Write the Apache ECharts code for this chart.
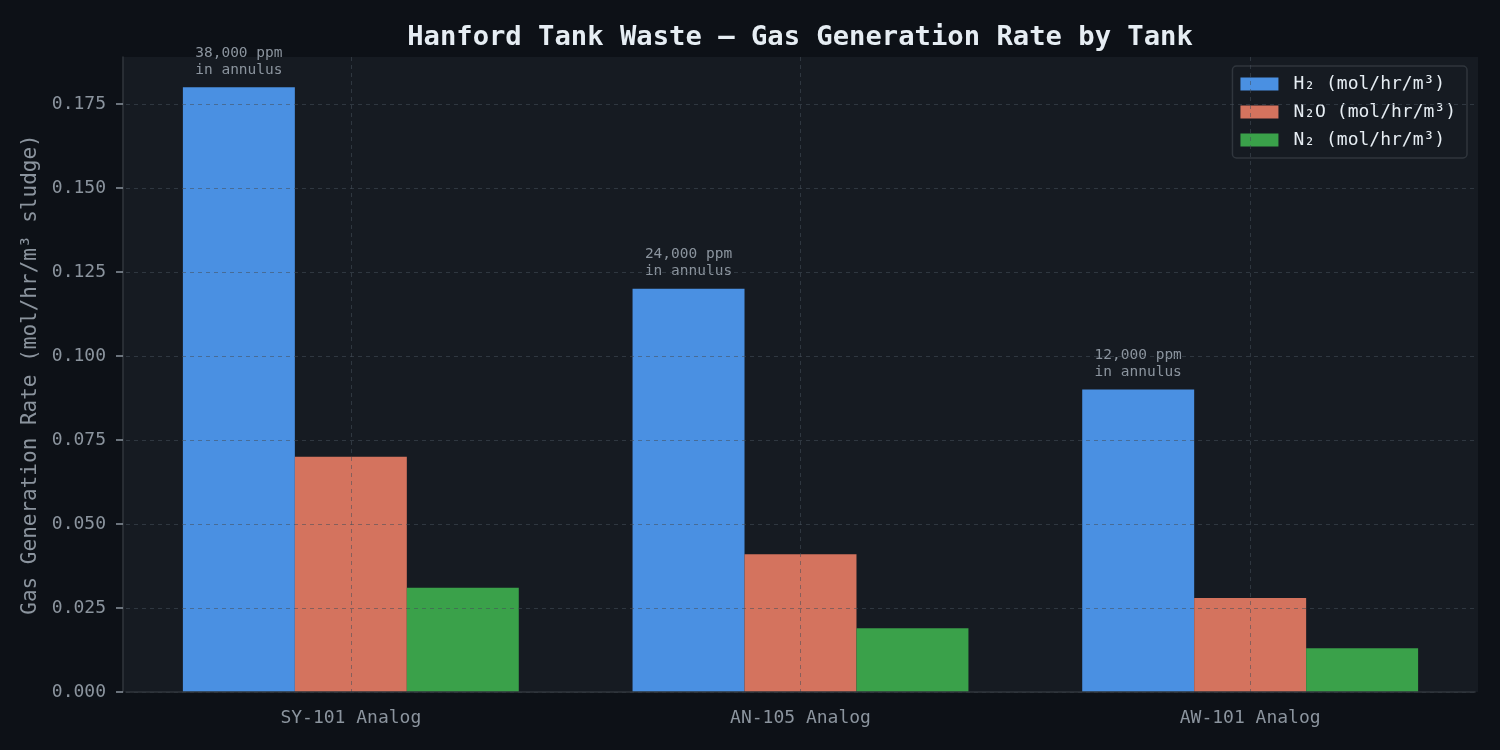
<!DOCTYPE html>
<html>
<head>
<meta charset="utf-8">
<script src="https://cdn.jsdelivr.net/npm/echarts@6/dist/echarts.min.js"></script>
<style>
  html, body { margin: 0; padding: 0; background: #0d1117; }
  #chart { width: 1500px; height: 750px; }
</style>
</head>
<body>
<div id="chart"></div>
<script>
const tanks = ['SY-101 Analog', 'AN-105 Analog', 'AW-101 Analog'];
const h2Rate = [0.180, 0.120, 0.090];
const n2oRate = [0.070, 0.041, 0.028];
const n2Rate = [0.031, 0.019, 0.013];
const annulusNotes = ['38,000 ppm\nin annulus', '24,000 ppm\nin annulus', '12,000 ppm\nin annulus'];
const seriesNames = ['H₂ (mol/hr/m³)', 'N₂O (mol/hr/m³)', 'N₂ (mol/hr/m³)'];

const font = 'DejaVu Sans Mono';
const gridColor = 'rgba(70,78,90,0.55)';

const chart = echarts.init(document.getElementById('chart'));

chart.setOption({
  backgroundColor: '#0d1117',
  animation: false,
  // plot background spans a little wider than the category band
  graphic: [{
    type: 'rect',
    z: -1,
    silent: true,
    shape: { x: 123, y: 57, width: 1355, height: 635 },
    style: { fill: '#161b22' }
  }],
  title: {
    text: 'Hanford Tank Waste — Gas Generation Rate by Tank',
    left: 795,
    top: 19,
    textAlign: 'center',
    textStyle: { color: '#e6edf3', fontFamily: font, fontSize: 27.2, fontWeight: 'bold' }
  },
  legend: {
    orient: 'vertical',
    right: 33,
    top: 66,
    itemWidth: 38,
    itemHeight: 13,
    itemGap: 10,
    padding: [9, 11, 9, 8],
    backgroundColor: '#161b22',
    borderColor: '#30363d',
    borderWidth: 1.5,
    borderRadius: 4,
    icon: 'rect',
    textStyle: { color: '#e6edf3', fontFamily: font, fontSize: 18, padding: [0, 0, 0, 10] },
    data: seriesNames
  },
  grid: {
    left: 126, right: 25, top: 57, bottom: 58
  },
  xAxis: {
    type: 'category',
    data: tanks,
    z: 5,
    axisLine: { lineStyle: { color: '#30363d', width: 1.5 } },
    axisTick: { alignWithLabel: true, length: 7, lineStyle: { color: '#8b949e', width: 1.5 } },
    axisLabel: { color: '#8b949e', fontFamily: font, fontSize: 18, margin: 17 },
    splitLine: { show: true, alignWithLabel: true, interval: 0, lineStyle: { color: gridColor, type: [4, 4], width: 1 } }
  },
  yAxis: {
    type: 'value',
    min: 0,
    max: 0.189,
    interval: 0.025,
    offset: 3,
    z: 5,
    name: 'Gas Generation Rate (mol/hr/m³ sludge)',
    nameLocation: 'middle',
    nameGap: 82,
    nameTextStyle: { color: '#8b949e', fontFamily: font, fontSize: 21 },
    axisLine: { show: true, lineStyle: { color: '#30363d', width: 1.5 } },
    axisTick: { show: true, length: 7, lineStyle: { color: '#8b949e', width: 1.5 } },
    axisLabel: {
      color: '#8b949e', fontFamily: font, fontSize: 18, margin: 17,
      showMaxLabel: false,
      formatter: v => v.toFixed(3)
    },
    splitLine: { show: true, showMaxLine: false, lineStyle: { color: gridColor, type: [4, 4], width: 1 } }
  },
  series: [
    {
      name: seriesNames[0],
      type: 'bar',
      data: h2Rate,
      barGap: '0%',
      barCategoryGap: '25.3%',
      itemStyle: { color: '#4a90e2' },
      label: {
        show: true,
        position: 'top',
        distance: 9,
        color: '#8b949e',
        fontFamily: font,
        fontSize: 14.5,
        lineHeight: 17,
        align: 'center',
        formatter: p => annulusNotes[p.dataIndex]
      }
    },
    {
      name: seriesNames[1],
      type: 'bar',
      data: n2oRate,
      barGap: '0%',
      itemStyle: { color: '#d4735e' }
    },
    {
      name: seriesNames[2],
      type: 'bar',
      data: n2Rate,
      barGap: '0%',
      itemStyle: { color: '#3aa14a' }
    }
  ]
});
</script>
</body>
</html>
